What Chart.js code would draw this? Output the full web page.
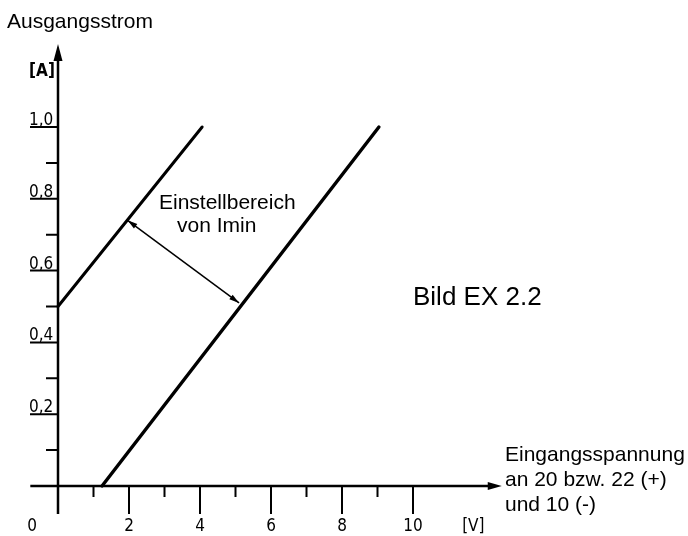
<!DOCTYPE html>
<html>
<head>
<meta charset="utf-8">
<script src="https://cdn.jsdelivr.net/npm/chart.js@4.4.0/dist/chart.umd.min.js"></script>
<style>
  html, body { margin: 0; padding: 0; background: #fff; }
</style>
</head>
<body>
<canvas id="myChart" width="688" height="536"></canvas>
<script>
// Eingangsspannung [V] / Ausgangsstrom [A]
const xTicks = [1, 2, 3, 4, 5, 6, 7, 8, 9, 10];
const xLabelValues = [0, 2, 4, 6, 8, 10];
const xLabels = ['0', '2', '4', '6', '8', '10'];
const yTicks = [0.1, 0.2, 0.3, 0.4, 0.5, 0.6, 0.7, 0.8, 0.9, 1.0];
const yLabelValues = [0.2, 0.4, 0.6, 0.8, 1.0];
const yLabels = ['0,2', '0,4', '0,6', '0,8', '1,0'];

// Kennlinien
const leftV = [0, 4.06];
const leftA = [0.5, 1.0];
const rightV = [1.24, 9.04];
const rightA = [0, 1.0];
// Einstellbereich (Doppelpfeil)
const rangeV = [1.96, 5.10];
const rangeA = [0.74, 0.51];

function pts(xs, ys) {
  return xs.map(function (x, i) { return { x: x, y: ys[i] }; });
}

const din = "17px 'DejaVu Sans Condensed', 'DejaVu Sans', sans-serif";
const sans = "'Liberation Sans', Arial, sans-serif";

function arrowHead(ctx, x1, y1, x2, y2, len, half) {
  const a = Math.atan2(y2 - y1, x2 - x1);
  ctx.beginPath();
  ctx.moveTo(x2, y2);
  ctx.lineTo(x2 - len * Math.cos(a) + half * Math.sin(a), y2 - len * Math.sin(a) - half * Math.cos(a));
  ctx.lineTo(x2 - len * Math.cos(a) - half * Math.sin(a), y2 - len * Math.sin(a) + half * Math.cos(a));
  ctx.closePath();
  ctx.fill();
}

const drawing = {
  id: 'drawing',
  beforeDatasetsDraw: function (chart) {
    const ctx = chart.ctx;
    const sx = chart.scales.x;
    const sy = chart.scales.y;
    const x0 = sx.getPixelForValue(0);
    const y0 = sy.getPixelForValue(0);
    ctx.save();
    ctx.fillStyle = '#fff';
    ctx.fillRect(0, 0, chart.width, chart.height);
    ctx.strokeStyle = '#000';
    ctx.fillStyle = '#000';

    // axes
    ctx.lineWidth = 2.5;
    ctx.beginPath();
    ctx.moveTo(x0, sy.getPixelForValue(-0.078));
    ctx.lineTo(x0, sy.getPixelForValue(1.2));
    ctx.moveTo(sx.getPixelForValue(-0.78), y0);
    ctx.lineTo(sx.getPixelForValue(12.2), y0);
    ctx.stroke();
    arrowHead(ctx, x0, y0, x0, sy.getPixelForValue(1.231), 17, 4.5);
    arrowHead(ctx, x0, y0, sx.getPixelForValue(12.5), y0, 14, 4);

    // ticks
    ctx.lineWidth = 2;
    ctx.beginPath();
    xTicks.forEach(function (v) {
      const px = sx.getPixelForValue(v);
      ctx.moveTo(px, y0);
      ctx.lineTo(px, y0 + (v % 2 === 0 ? 28 : 11));
    });
    yTicks.forEach(function (v) {
      const py = sy.getPixelForValue(v);
      const major = Math.round(v * 10) % 2 === 0;
      ctx.moveTo(x0, py);
      ctx.lineTo(major ? x0 - 28 : x0 - 12, py);
    });
    ctx.stroke();

    // tick labels
    ctx.font = din;
    ctx.textBaseline = 'alphabetic';
    ctx.textAlign = 'left';
    yLabelValues.forEach(function (v, i) {
      ctx.fillText(yLabels[i], x0 - 29, sy.getPixelForValue(v) - 2);
    });
    ctx.textBaseline = 'middle';
    ctx.textAlign = 'center';
    xLabelValues.forEach(function (v, i) {
      const px = v === 0 ? x0 - 26 : sx.getPixelForValue(v);
      ctx.fillText(xLabels[i], px, y0 + 41);
    });
    ctx.fillText('[V]', sx.getPixelForValue(11.7), y0 + 41);
    ctx.font = "bold " + din;
    ctx.fillText('[A]', x0 - 16, sy.getPixelForValue(1.155));

    // texts
    ctx.textAlign = 'left';
    ctx.font = '21px ' + sans;
    ctx.fillText('Ausgangsstrom', 7, 22);
    ctx.fillText('Einstellbereich', 159, 203);
    ctx.fillText('von Imin', 177, 226);
    ctx.fillText('Eingangsspannung', 505, 455);
    ctx.fillText('an 20 bzw. 22 (+)', 505, 480);
    ctx.fillText('und 10 (-)', 505, 505);
    ctx.font = '26px ' + sans;
    ctx.fillText('Bild EX 2.2', 413, 298);
    ctx.restore();
  },
  afterDatasetsDraw: function (chart) {
    const ctx = chart.ctx;
    const sx = chart.scales.x;
    const sy = chart.scales.y;
    const ax = sx.getPixelForValue(rangeV[0]);
    const ay = sy.getPixelForValue(rangeA[0]);
    const bx = sx.getPixelForValue(rangeV[1]);
    const by = sy.getPixelForValue(rangeA[1]);
    ctx.save();
    ctx.fillStyle = '#000';
    arrowHead(ctx, bx, by, ax, ay, 10, 2.8);
    arrowHead(ctx, ax, ay, bx, by, 10, 2.8);
    ctx.restore();
  }
};

var ctx = document.getElementById('myChart');
var myChart = new Chart(ctx, {
  type: 'scatter',
  data: {
    datasets: [{
      data: pts(leftV, leftA),
      showLine: true,
      borderColor: '#000',
      borderWidth: 3,
      borderCapStyle: 'round',
      pointRadius: 0
    }, {
      data: pts(rightV, rightA),
      showLine: true,
      borderColor: '#000',
      borderWidth: 3.4,
      borderCapStyle: 'round',
      pointRadius: 0
    }, {
      data: pts(rangeV, rangeA),
      showLine: true,
      borderColor: '#000',
      borderWidth: 1.5,
      pointRadius: 0
    }]
  },
  options: {
    responsive: false,
    animation: false,
    devicePixelRatio: 1,
    layout: { padding: 0 },
    plugins: {
      legend: { display: false },
      tooltip: { enabled: false }
    },
    scales: {
      x: { type: 'linear', display: false, min: -58 / 35.5, max: 630 / 35.5 },
      y: { type: 'linear', display: false, min: -50 / 359, max: 486 / 359 }
    }
  },
  plugins: [drawing]
});
</script>
</body>
</html>
